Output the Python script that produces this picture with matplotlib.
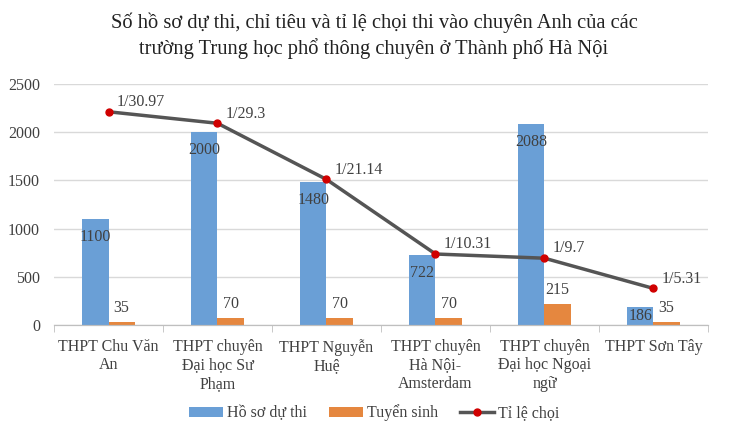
import numpy as np
import matplotlib.pyplot as plt

plt.rcParams['font.family'] = ['Liberation Serif', 'DejaVu Serif']

# dữ liệu
truong = ["THPT Chu Văn\nAn", "THPT chuyên\nĐại học Sư\nPhạm", "THPT Nguyễn\nHuệ",
          "THPT chuyên\nHà Nội-\nAmsterdam", "THPT chuyên\nĐại học Ngoại\nngữ", "THPT Sơn Tây"]
ho_so = [1100, 2000, 1480, 722, 2088, 186]
tuyen_sinh = [35, 70, 70, 70, 215, 35]
ti_le = [30.97, 29.3, 21.14, 10.31, 9.7, 5.31]
ti_le_nhan = ["1/30.97", "1/29.3", "1/21.14", "1/10.31", "1/9.7", "1/5.31"]

c_blue = "#6A9FD6"
c_orange = "#E5873F"
c_line = "#555555"
c_text = "#404040"
fs = 11.5

fig = plt.figure(figsize=(7.48, 4.36), dpi=100)
ax = fig.add_axes([0.0722, 0.2546, 0.8743, 0.5527])
ax2 = ax.twinx()

x = np.arange(len(truong))
w = 0.24
b1 = ax.bar(x - w / 2, ho_so, w, color=c_blue, label="Hồ sơ dự thi", zorder=2)
b2 = ax.bar(x + w / 2, tuyen_sinh, w, color=c_orange, label="Tuyển sinh", zorder=2)

# nhãn bên trong đầu cột (cột thấp thì đặt giữa cột)
for xi, v in zip(x, ho_so):
    ax.text(xi - w / 2, max(v - 185, v / 2), str(v),
            ha="center", va="center", fontsize=fs, color=c_text)
for xi, v in zip(x, tuyen_sinh):
    ax.annotate(str(v), (xi + w / 2, v), xytext=(0, 10), textcoords="offset points",
                ha="center", va="center", fontsize=fs, color=c_text)

ln, = ax2.plot(x, ti_le, color=c_line, lw=2.5, marker="o", markersize=5,
               markerfacecolor="#D00000", markeredgecolor="#D00000", label="Tỉ lệ chọi", zorder=3)
for xi, v, s in zip(x, ti_le, ti_le_nhan):
    ax2.annotate(s, (xi, v), xytext=(6, 7), textcoords="offset points",
                 ha="left", va="center", fontsize=fs, color=c_text)

ax.set_xlim(-0.5, len(truong) - 0.5)
ax.set_ylim(0, 2500)
ax2.set_ylim(0, 35)
ax.set_yticks(np.arange(0, 2501, 500))
ax.tick_params(axis="y", length=0, labelsize=fs, labelcolor=c_text, pad=10)
ax2.set_yticks([])

ax.set_xticks(x)
ax.set_xticklabels(truong, fontsize=fs, color=c_text, linespacing=1.2)
ax.set_xticks(np.arange(-0.5, len(truong)), minor=True)
ax.tick_params(axis="x", which="major", length=0, pad=10)
ax.tick_params(axis="x", which="minor", length=5, color="#BFBFBF")

ax.grid(axis="y", color="#D9D9D9", lw=1, zorder=0)
ax.set_axisbelow(True)
for a in (ax, ax2):
    for sp in ["left", "right", "top"]:
        a.spines[sp].set_visible(False)
    a.spines["bottom"].set_color("#BFBFBF")

fig.suptitle("Số hồ sơ dự thi, chỉ tiêu và tỉ lệ chọi thi vào chuyên Anh của các\n"
             "trường Trung học phổ thông chuyên ở Thành phố Hà Nội",
             x=0.5, y=0.972, fontsize=14.8, color="#222222", linespacing=1.35)

fig.legend([b1, b2, ln], ["Hồ sơ dự thi", "Tuyển sinh", "Tỉ lệ chọi"],
           loc="center", bbox_to_anchor=(0.5, 0.053), ncol=3, frameon=False,
           fontsize=fs, handlelength=2.1, handleheight=0.6, columnspacing=1.4,
           handletextpad=0.25, labelcolor=c_text)

fig.savefig("out.png", dpi=100)
